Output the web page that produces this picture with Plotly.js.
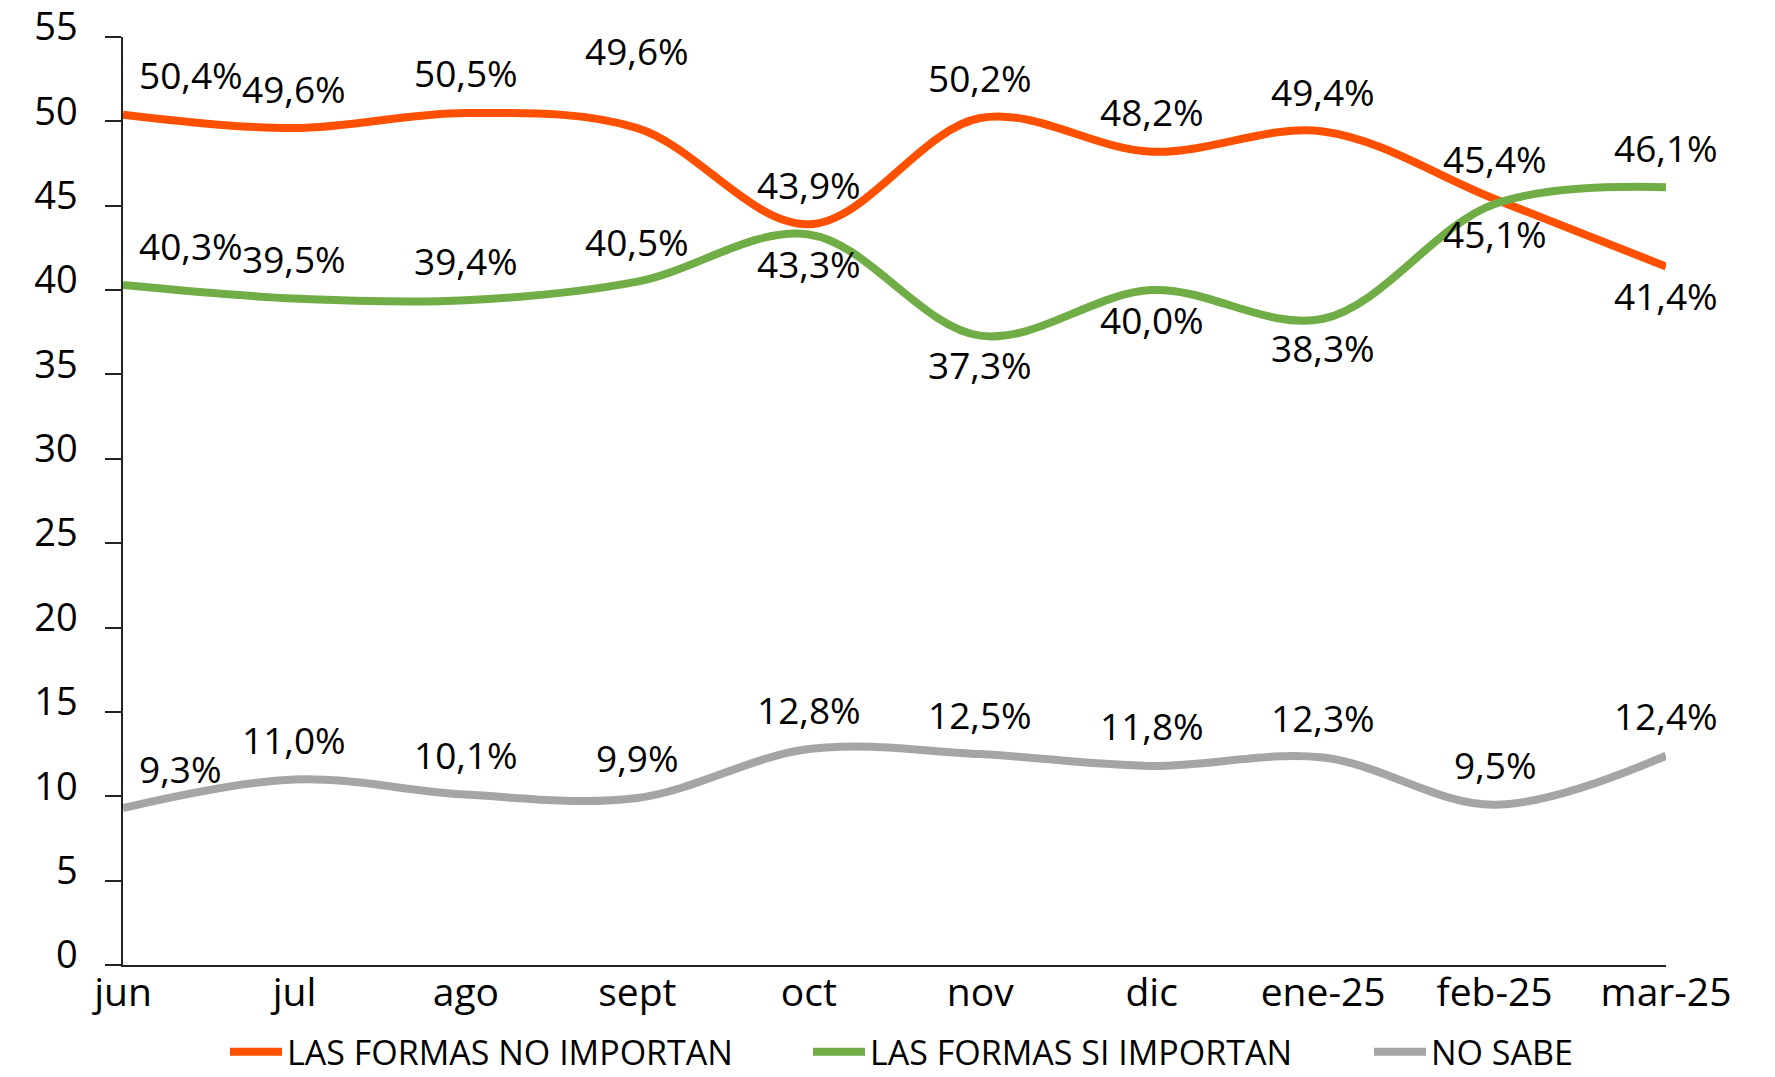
<!DOCTYPE html>
<html>
<head>
<meta charset="utf-8">
<script src="https://cdn.plot.ly/plotly-3.0.1.min.js"></script>
<style>
  html, body { margin: 0; padding: 0; background: #fff; }
  #chart { width: 1775px; height: 1077px; }
</style>
</head>
<body>
<div id="chart"></div>
<script>
// ---- data ----
const months = ['jun', 'jul', 'ago', 'sept', 'oct', 'nov', 'dic', 'ene-25', 'feb-25', 'mar-25'];
const noImportan = [50.4, 49.6, 50.5, 49.6, 43.9, 50.2, 48.2, 49.4, 45.4, 41.4];
const siImportan = [40.3, 39.5, 39.4, 40.5, 43.3, 37.3, 40.0, 38.3, 45.1, 46.1];
const noSabe = [9.3, 11.0, 10.1, 9.9, 12.8, 12.5, 11.8, 12.3, 9.5, 12.4];
const seriesNames = ['LAS FORMAS NO IMPORTAN', 'LAS FORMAS SI IMPORTAN', 'NO SABE'];
const yTickVals = [0, 5, 10, 15, 20, 25, 30, 35, 40, 45, 50, 55];

// ---- label placement (style, not data) ----
const placeNoImportan = ['up', 'up', 'up', 'up2', 'up', 'up', 'up', 'up', 'up', 'down'];
const placeSiImportan = ['up', 'up', 'up', 'up', 'down', 'down', 'down', 'down', 'down', 'up'];
const placeNoSabe = ['up', 'up', 'up', 'up', 'up', 'up', 'up', 'up', 'up', 'up'];

const colors = ['#FF5000', '#70AD47', '#A5A5A5'];
const legendWidths = [516, 494, null];
const FONT = 'Open Sans, Liberation Sans, sans-serif';
const shifts = { up: 40, up2: 78, down: -29 };

function fmt(v) { return v.toFixed(1).replace('.', ',') + '%'; }

const allSeries = [noImportan, siImportan, noSabe];
const allPlaces = [placeNoImportan, placeSiImportan, placeNoSabe];

const traces = allSeries.map((vals, i) => {
  const t = {
    type: 'scatter',
    mode: 'lines',
    name: seriesNames[i],
    x: months,
    y: vals,
    line: { color: colors[i], width: 8, shape: 'spline', smoothing: 1 },
    hoverinfo: 'x+y'
  };
  if (legendWidths[i]) t.legendwidth = legendWidths[i];
  return t;
});

const annotations = [];
allSeries.forEach((vals, i) => {
  vals.forEach((v, j) => {
    const first = j === 0;
    annotations.push({
      x: months[j], y: v, xref: 'x', yref: 'y',
      text: fmt(v), showarrow: false,
      xanchor: first ? 'left' : 'center',
      xshift: first ? 14 : 0,
      yanchor: 'middle',
      yshift: shifts[allPlaces[i][j]],
      font: { family: FONT, size: 37, color: '#000' }
    });
  });
});

const layout = {
  width: 1775, height: 1077,
  paper_bgcolor: '#fff', plot_bgcolor: '#fff',
  margin: { l: 123, r: 109, t: 37, b: 112, autoexpand: false },
  showlegend: true,
  legend: {
    orientation: 'h', x: 0.0661, xanchor: 'left', y: -0.094, yanchor: 'middle',
    font: { family: FONT, size: 34, color: '#000' },
    bgcolor: 'rgba(0,0,0,0)',
    itemwidth: 52,
    itemclick: false, itemdoubleclick: false
  },
  xaxis: {
    type: 'category', range: [0, 9],
    showline: true, linecolor: '#222', linewidth: 1.5,
    showgrid: false, zeroline: false, ticks: '',
    ticklabelstandoff: -8,
    tickfont: { family: FONT, size: 39, color: '#000' },
    fixedrange: true
  },
  yaxis: {
    range: [0, 55], tickvals: yTickVals,
    showline: true, linecolor: '#222', linewidth: 1.5,
    showgrid: false, zeroline: false,
    ticks: 'outside', ticklen: 16, tickwidth: 1.5, tickcolor: '#222',
    ticklabelstandoff: 20, ticklabelshift: -10, ticklabeloverflow: 'allow',
    tickfont: { family: FONT, size: 38, color: '#000' },
    fixedrange: true
  },
  annotations: annotations
};

Plotly.newPlot('chart', traces, layout, { displayModeBar: false, staticPlot: false });
</script>
</body>
</html>
